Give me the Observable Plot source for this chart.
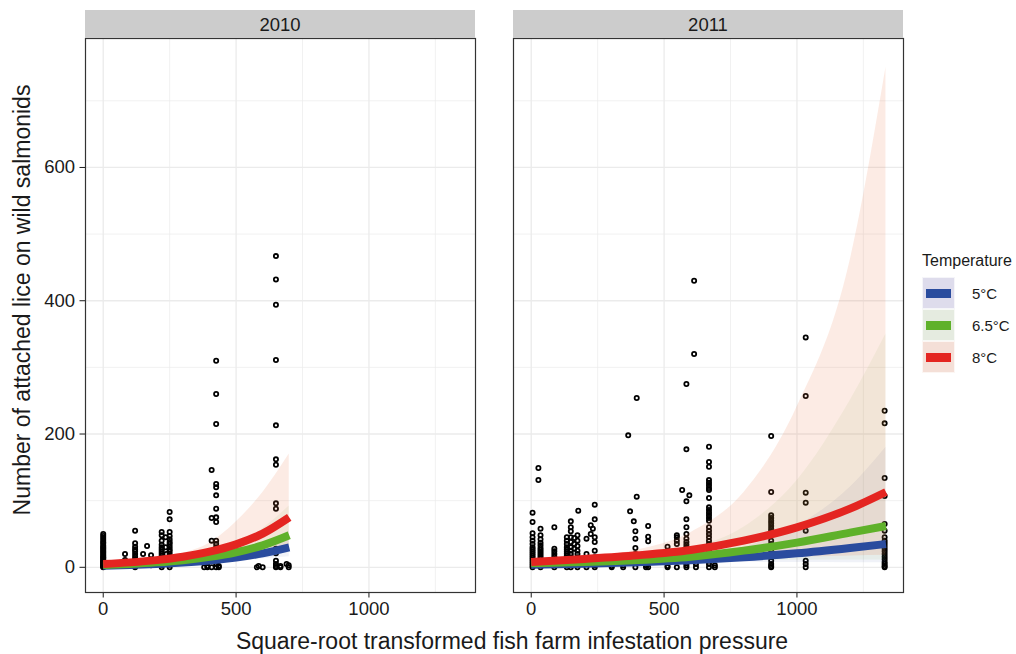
<!DOCTYPE html>
<html>
<head>
<meta charset="utf-8">
<script src="https://cdn.jsdelivr.net/npm/d3@7"></script>
<script src="https://cdn.jsdelivr.net/npm/@observablehq/plot@0.6"></script>
<style>
  html, body { margin: 0; padding: 0; background: #fff; }
  #root { position: relative; width: 1016px; height: 654px; overflow: hidden; font-family: "Liberation Sans", Arial, Helvetica, sans-serif; color: #1a1a1a; }
  .strip { position: absolute; top: 10px; height: 28px; background: #cccccc; font-size: 18.5px; line-height: 29px; text-align: center; color: #1a1a1a; }
  .ytitle { position: absolute; left: 22px; top: 300px; transform: translate(-50%, -50%) rotate(-90deg); white-space: nowrap; font-size: 23px; }
  .xtitle { position: absolute; left: 512px; top: 641px; transform: translate(-50%, -50%); white-space: nowrap; font-size: 23px; }
  .legend { position: absolute; left: 922px; top: 250px; }
  .legend .title { height: 22px; line-height: 22px; font-size: 16px; margin-bottom: 5px; }
  .legend .row { display: flex; align-items: center; height: 32px; margin-bottom: 0px; font-size: 15px; }
  .legend .key { width: 33px; height: 32px; position: relative; box-sizing: border-box; border: 1px solid rgba(255,255,255,0.7); }
  .legend .key .bar { position: absolute; left: 3px; right: 3px; top: 11px; height: 9px; }
  .legend .lab { margin-left: 17px; }
</style>
</head>
<body>
<div id="root"></div>
<script>
// ---------- data ----------
const years = ["2010", "2011"];
const temps = ["5°C", "6.5°C", "8°C"];
const lineColors = ["#2a4c9e", "#5fb12a", "#e42521"];
const ribbonColors = ["#2c4c9c", "#5fb12a", "#e8743f"];
const ribbonOpacity = [0.07, 0.07, 0.14];
const keyColors = ["#dedcec", "#e5ebe0", "#f4dfd7"];

const xTicks = [0, 500, 1000];
const xMinor = [250, 750, 1250];
const yTicks = [0, 200, 400, 600];
const yMinor = [100, 300, 500, 700];

// observed points, 2010: [x, y]
const pts2010 = [
  [0,0],[0,1],[0,2],[0,3],[0,4],[0,5],[0,6],[0,7],[0,8],[0,9],[0,10],[0,12],[0,14],[0,15],[0,17],[0,19],[0,21],[0,23],[0,25],[0,27],[0,29],[0,31],[0,33],[0,36],[0,38],[0,41],[0,44],[0,47],[0,50],
  [82,20],[82,11],[82,3],
  [120,55],[120,36],[120,31],[120,27],[120,24],[120,20],[120,16],[120,12],[120,8],[120,5],[120,2],[120,0],
  [150,20],[165,32],[180,18],[150,5],[180,3],
  [220,53],[220,48],[220,40],[220,34],[220,30],[220,27],[220,24],[220,21],[220,18],[220,15],[220,12],[220,9],[220,6],[220,3],[220,0],
  [235,45],[235,30],[238,20],
  [250,83],[250,72],[250,53],[250,47],[250,42],[250,38],[250,35],[250,31],[250,27],[250,24],[250,20],[250,16],[250,12],[250,8],[250,4],[250,0],
  [380,0],[392,2],[392,0],
  [408,146],[408,74],[408,40],[408,0],
  [425,310],[425,260],[425,215],[425,125],[425,120],[425,108],[425,88],[425,75],[425,68],[425,40],[425,35],[425,30],[425,25],[425,20],[425,15],[425,10],[425,5],[425,0],
  [435,2],[435,0],
  [578,0],[585,2],[600,0],
  [650,467],[650,432],[650,394],[650,311],[650,213],[650,162],[650,154],[650,96],[650,88],[650,28],[650,21],[650,10],[650,5],[650,2],[650,0],
  [667,2],[667,0],[698,3],[698,0],[690,5]
];

// observed points, 2011: [x, y]
const pts2011 = [
  [5,82],[5,68],[5,51],[5,45],[5,40],[5,35],[5,30],[5,27],[5,24],[5,21],[5,18],[5,15],[5,12],[5,9],[5,6],[5,3],[5,0],
  [27,149],[27,131],
  [35,58],[35,48],[35,42],[35,37],[35,33],[35,29],[35,26],[35,23],[35,20],[35,17],[35,14],[35,10],[35,6],[35,3],[35,0],
  [87,60],[87,28],[87,24],[87,20],[87,16],[87,12],[87,8],[87,4],[87,0],
  [134,45],[134,40],[134,35],[134,30],[134,27],[134,24],[134,21],[134,18],[134,15],[134,12],[134,9],[134,6],[134,3],[134,0],
  [149,69],[149,60],[149,54],[149,45],[149,38],[149,30],[149,25],[149,20],[149,15],[149,10],[149,5],[149,0],
  [162,44],[162,35],[162,28],
  [174,48],[174,40],[174,32],[174,25],[174,20],[174,15],[174,10],[174,5],[174,0],
  [177,85],
  [208,43],[208,20],[208,10],[208,0],
  [224,63],[224,50],[232,58],
  [239,94],[239,72],[239,45],[239,38],[239,25],[239,15],[239,8],[239,3],[239,0],
  [303,0],[303,2],[346,0],[346,3],
  [365,198],[372,84],[386,69],
  [392,54],[392,43],[392,29],[392,20],[392,12],[392,6],[392,0],
  [397,254],[397,106],
  [432,0],[432,3],
  [440,62],[440,46],[440,39],[440,20],[440,8],[440,0],
  [513,31],[513,10],[513,2],[513,0],
  [548,48],[548,45],[548,40],[548,35],[548,20],[548,10],[548,0],
  [568,116],
  [584,275],[584,177],[584,99],[584,72],[584,60],[584,50],[584,43],[584,38],[584,34],[584,30],[584,26],[584,22],[584,18],[584,14],[584,10],[584,6],[584,3],[584,0],
  [595,108],
  [613,430],[613,320],
  [620,0],[620,5],
  [669,181],[669,158],[669,151],[669,131],[669,127],[669,123],[669,119],[669,116],[669,104],[669,90],[669,86],[669,82],[669,78],[669,74],[669,70],[669,60],[669,55],[669,50],[669,45],[669,40],[669,35],[669,30],[669,25],[669,20],[669,15],[669,10],[669,5],[669,0],
  [691,0],[691,3],
  [903,197],[903,113],[903,78],[903,74],[903,70],[903,66],[903,62],[903,58],[903,54],[903,51],[903,40],[903,35],[903,30],[903,25],[903,20],[903,15],[903,10],[903,5],[903,2],[903,0],
  [1033,345],[1033,257],[1033,112],[1033,97],[1033,55],[1033,10],[1033,5],[1033,0],
  [1330,235],[1330,216],[1330,134],[1330,107],[1330,65],[1330,55],[1330,45],[1330,40],[1330,36],[1330,32],[1330,28],[1330,24],[1330,20],[1330,16],[1330,12],[1330,8],[1330,5],[1330,2],[1330,0]
];

// fitted curves, 2010
const fitX2010 = [0, 100, 200, 300, 400, 500, 600, 700];
const fit2010_5   = [2.5, 3.6, 5.1, 7.3, 10.3, 14.8, 21, 30];
const lo2010_5    = [1.5, 2.5, 3.8, 5.5, 7.5, 10, 13, 16];
const hi2010_5    = [4, 5, 7, 9.5, 14, 21, 34, 55];
const fit2010_65  = [3.5, 5.1, 7.4, 10.7, 15.6, 22.6, 32.9, 48];
const lo2010_65   = [2.2, 3.6, 5.6, 8.5, 11.5, 14.5, 18.5, 24];
const hi2010_65   = [5.5, 7, 9.5, 13, 20, 34, 58, 92];
const fit2010_8   = [5, 7.4, 10.8, 15.9, 23.4, 34.4, 50.6, 75];
const lo2010_8    = [3, 5, 7.5, 11, 15, 20, 26, 33];
const hi2010_8    = [8, 10.5, 14, 21, 36, 68, 112, 170];

// fitted curves, 2011
const fitX2011 = [0, 200, 400, 600, 800, 1000, 1200, 1335];
const fit2011_5   = [4, 5.5, 7.5, 10.5, 15, 21, 29, 35];
const lo2011_5    = [2.7, 4, 5.6, 6.9, 7.5, 7.1, 7, 6.8];
const hi2011_5    = [6, 7.5, 10, 16, 30, 62, 120, 180];
const fit2011_65  = [6, 8, 11, 16, 25, 37, 52, 62];
const lo2011_65   = [4, 5.8, 7.6, 9.1, 10.4, 10.5, 10.8, 11];
const hi2011_65   = [9, 11, 16, 28, 60, 130, 250, 350];
const fit2011_8   = [8, 12.5, 18, 26, 40, 60, 88, 113];
const lo2011_8    = [5.8, 9, 12.5, 13, 14, 15, 17, 18];
const hi2011_8    = [11, 15, 26, 52, 112, 240, 460, 750];

// ---------- build tables ----------
function rows(xs, fits, los, his) {
  return temps.map((t, i) => xs.map((x, j) => ({x, y: fits[i][j], lo: los[i][j], hi: his[i][j], temp: t})));
}
const curves2010 = rows(fitX2010, [fit2010_5, fit2010_65, fit2010_8], [lo2010_5, lo2010_65, lo2010_8], [hi2010_5, hi2010_65, hi2010_8]);
const curves2011 = rows(fitX2011, [fit2011_5, fit2011_65, fit2011_8], [lo2011_5, lo2011_65, lo2011_8], [hi2011_5, hi2011_65, hi2011_8]);

const xDomain = [-66.7, 1401];
const yDomain = [-37.8, 793.5];
const FONT = '"Liberation Sans", Arial, Helvetica, sans-serif';

function panel(pts, curves, showY) {
  const marks = [
    Plot.ruleY(yMinor, {stroke: "#ebebeb", strokeWidth: 0.7}),
    Plot.ruleX(xMinor, {stroke: "#ebebeb", strokeWidth: 0.7}),
    Plot.ruleY(yTicks, {stroke: "#ebebeb", strokeWidth: 1.3}),
    Plot.ruleX(xTicks, {stroke: "#ebebeb", strokeWidth: 1.3}),
    Plot.dot(pts, {x: d => d[0], y: d => d[1], r: 2.1, stroke: "#000", strokeWidth: 1.8, fill: "none"})
  ];
  curves.forEach((c, i) => {
    marks.push(Plot.areaY(c, {x: "x", y1: "lo", y2: "hi", fill: ribbonColors[i], fillOpacity: ribbonOpacity[i], curve: "monotone-x"}));
  });
  curves.forEach((c, i) => {
    marks.push(Plot.line(c, {x: "x", y: "y", stroke: lineColors[i], strokeWidth: 8, strokeLinecap: "butt", curve: "monotone-x"}));
  });
  marks.push(Plot.frame({stroke: "#333", strokeWidth: 1.2}));
  return Plot.plot({
    width: showY ? 476 : 392,
    height: 590,
    marginTop: 1,
    marginBottom: 35,
    marginLeft: showY ? 85 : 1,
    marginRight: 1,
    style: {fontFamily: FONT, fontSize: "18.5px", color: "#1a1a1a", background: "transparent", overflow: "visible"},
    x: {domain: xDomain, ticks: xTicks, tickSize: 5.5, tickPadding: 4, label: null, tickFormat: d => String(d)},
    y: {domain: yDomain, ticks: yTicks, tickSize: 5.5, tickPadding: 5, label: null, axis: showY ? "left" : null, tickFormat: d => String(d)},
    marks
  });
}

const root = document.getElementById("root");
function place(el, left, top) {
  el.style.position = "absolute";
  el.style.left = left + "px";
  el.style.top = top + "px";
  el.style.maxWidth = "none";
  root.appendChild(el);
}

place(panel(pts2010, curves2010, true), 0, 37);
place(panel(pts2011, curves2011, false), 512, 37);

function div(cls, text, style) {
  const d = document.createElement("div");
  d.className = cls;
  d.textContent = text;
  Object.assign(d.style, style || {});
  root.appendChild(d);
  return d;
}
div("strip", years[0], {left: "85px", width: "390px"});
div("strip", years[1], {left: "513px", width: "390px"});
div("ytitle", "Number of attached lice on wild salmonids");
div("xtitle", "Square-root transformed fish farm infestation pressure");

const lg = document.createElement("div");
lg.className = "legend";
const lt = document.createElement("div"); lt.className = "title"; lt.textContent = "Temperature"; lg.appendChild(lt);
temps.forEach((t, i) => {
  const row = document.createElement("div"); row.className = "row";
  const key = document.createElement("div"); key.className = "key"; key.style.background = keyColors[i];
  const bar = document.createElement("div"); bar.className = "bar"; bar.style.background = lineColors[i];
  key.appendChild(bar);
  const lab = document.createElement("div"); lab.className = "lab"; lab.textContent = t;
  row.appendChild(key); row.appendChild(lab);
  lg.appendChild(row);
});
root.appendChild(lg);
</script>
</body>
</html>
